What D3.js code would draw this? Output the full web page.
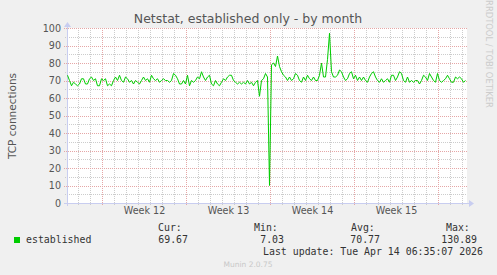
<!DOCTYPE html>
<html>
<head>
<meta charset="utf-8">
<script src="https://cdn.jsdelivr.net/npm/d3@7"></script>
<style>
  html, body { margin: 0; padding: 0; background: #f0f0f0; }
  svg { display: block; }
  .tickLbl { font-family: "DejaVu Sans", sans-serif; font-size: 9.6px; fill: #555; }
  .mono { font-family: "DejaVu Sans Mono", monospace; font-size: 9.9px; fill: #333; }
</style>
</head>
<body>
<div id="chart"></div>
<script>
// established connections, one value every 4 hours
var established = [
    73, 70, 67, 69, 68, 67, 68, 71, 71, 68, 68, 71, 72, 70, 71, 67, 67, 71,
    70, 71, 67, 68, 67, 70, 72, 70, 73, 70, 69, 72, 71, 69, 70, 68, 70, 69, 68, 70, 72, 70, 71,
    69, 73, 71, 70, 71, 69, 70, 71, 70, 70, 69, 70, 74, 73, 71, 68, 68, 70, 68,
    73, 67, 70, 69, 70, 72, 71, 75, 72, 70, 72, 73, 68, 67, 70, 68, 67, 69, 71, 70, 72,
    73, 73, 70, 69, 68, 69, 68, 69, 68, 70, 68, 69, 67, 69, 70, 61, 70, 71, 74, 72, 10, 79,
    80, 78, 84, 78, 75, 73, 72, 70, 72, 70, 71, 74, 73, 70, 69, 72, 70, 73, 71, 70, 72,
    70, 70, 73, 80, 72, 72, 82, 97, 75, 72, 72, 73, 76, 75, 72, 70, 71, 74, 75, 71, 73, 70,
    72, 70, 72, 70, 69, 72, 74, 75, 72, 70, 69, 71, 69, 70, 71, 69, 73, 73, 70, 72, 75, 74, 70,
    69, 72, 69, 70, 69, 70, 70, 68, 70, 73, 72, 70, 74, 72, 70, 69, 74, 70, 69, 70, 71, 73,
    71, 69, 69, 72, 71, 72, 71, 69, 70
];
var weekStarts = ["2026-03-16", "2026-03-23", "2026-03-30", "2026-04-06", "2026-04-13"];
var weekLabels = ["Week 12", "Week 13", "Week 14", "Week 15"];
var yTicks = [0, 10, 20, 30, 40, 50, 60, 70, 80, 90, 100];
var statNames = ["Cur:", "Min:", "Avg:", "Max:"];
var statValues = ["69.67", "7.03", "70.77", "130.89"];

var ctx = {
    w: 497, h: 275,
    left: 67, right: 467, top: 28, bottom: 203,
    lineColor: "#00cc00",
    minorGrid: "#cccccc",
    majorGrid: "#e5a6a6",
    axisColor: "#c8cdf0"
};

var t0 = new Date(Date.UTC(2026, 2, 13, 2, 0));
var t1 = new Date(t0.getTime() + 800 * 3600 * 1000);
var STEP = 4 * 3600 * 1000;

var x = d3.scaleUtc().domain([t0, t1]).range([ctx.left, ctx.right]);
var y = d3.scaleLinear().domain([0, 100]).range([ctx.bottom, ctx.top]);

var svgEl = d3.select("#chart").append("svg")
    .attr("width", ctx.w)
    .attr("height", ctx.h);

svgEl.append("rect").attr("width", ctx.w).attr("height", ctx.h).attr("fill", "#f0f0f0");
svgEl.append("rect")
    .attr("x", ctx.left).attr("y", ctx.top)
    .attr("width", ctx.right - ctx.left).attr("height", ctx.bottom - ctx.top)
    .attr("fill", "#ffffff");

// minor grid: days and every 5
var days = d3.utcDay.range(t0, t1);
svgEl.append("g").selectAll("line")
    .data(days)
    .enter().append("line")
    .attr("x1", d => Math.round(x(d)) + 0.5).attr("x2", d => Math.round(x(d)) + 0.5)
    .attr("y1", ctx.top).attr("y2", ctx.bottom + 3)
    .attr("stroke", ctx.minorGrid).attr("stroke-dasharray", "1,1");
svgEl.append("g").selectAll("line")
    .data(d3.range(5, 100, 10))
    .enter().append("line")
    .attr("x1", ctx.left - 2).attr("x2", ctx.right)
    .attr("y1", d => Math.round(y(d)) + 0.5).attr("y2", d => Math.round(y(d)) + 0.5)
    .attr("stroke", ctx.minorGrid).attr("stroke-dasharray", "1,1");

// major grid: weeks and every 10
svgEl.append("g").selectAll("line")
    .data(weekStarts.map(d => new Date(d + "T00:00:00Z")))
    .enter().append("line")
    .attr("x1", d => Math.round(x(d)) + 0.5).attr("x2", d => Math.round(x(d)) + 0.5)
    .attr("y1", ctx.top).attr("y2", ctx.bottom + 3)
    .attr("stroke", ctx.majorGrid).attr("stroke-dasharray", "1,1");
svgEl.append("g").selectAll("line")
    .data(yTicks.filter(d => d > 0))
    .enter().append("line")
    .attr("x1", ctx.left - 3).attr("x2", ctx.right)
    .attr("y1", d => Math.round(y(d)) + 0.5).attr("y2", d => Math.round(y(d)) + 0.5)
    .attr("stroke", ctx.majorGrid).attr("stroke-dasharray", "1,1");

// axes lines + arrows
svgEl.append("line")
    .attr("x1", ctx.left - 3).attr("x2", ctx.right + 3)
    .attr("y1", ctx.bottom + 0.5).attr("y2", ctx.bottom + 0.5)
    .attr("stroke", ctx.axisColor);
svgEl.append("line")
    .attr("x1", ctx.left + 0.5).attr("x2", ctx.left + 0.5)
    .attr("y1", ctx.bottom + 3).attr("y2", ctx.top - 3)
    .attr("stroke", ctx.axisColor);
svgEl.append("path")
    .attr("d", `M${ctx.right + 2},${ctx.bottom - 3}L${ctx.right + 7},${ctx.bottom + 0.5}L${ctx.right + 2},${ctx.bottom + 4}Z`)
    .attr("fill", ctx.axisColor);
svgEl.append("path")
    .attr("d", `M${ctx.left - 3},${ctx.top - 1}L${ctx.left + 0.5},${ctx.top - 6}L${ctx.left + 4},${ctx.top - 1}Z`)
    .attr("fill", ctx.axisColor);

// data line
var line = d3.line()
    .x((d, i) => x(new Date(t0.getTime() + i * STEP)) + 0.5)
    .y(d => y(d));
svgEl.append("path")
    .datum(established)
    .attr("d", line)
    .attr("fill", "none")
    .attr("stroke", ctx.lineColor)
    .attr("stroke-width", 1);

// y axis labels
var yAxisG = svgEl.append("g")
    .attr("transform", "translate(" + (ctx.left - 3) + ",0)")
    .call(d3.axisLeft(y).tickValues(yTicks).tickSize(0).tickPadding(3));
yAxisG.select(".domain").remove();
yAxisG.selectAll("text").attr("class", "tickLbl").attr("fill", null).attr("font-size", null).attr("font-family", null);

// x axis labels, centred in each week
var mids = weekLabels.map((w, i) => new Date((Date.parse(weekStarts[i]) + Date.parse(weekStarts[i + 1])) / 2));
var xAxisG = svgEl.append("g")
    .attr("transform", "translate(0," + (ctx.bottom + 1) + ")")
    .call(d3.axisBottom(x).tickValues(mids).tickSize(0).tickPadding(3).tickFormat((d, i) => weekLabels[i]));
xAxisG.select(".domain").remove();
xAxisG.selectAll("text").attr("class", "tickLbl").attr("fill", null).attr("font-size", null).attr("font-family", null);

// titles
svgEl.append("text")
    .attr("x", 248).attr("y", 23)
    .attr("text-anchor", "middle")
    .attr("font-family", "DejaVu Sans, sans-serif")
    .attr("font-size", "12.5px")
    .attr("fill", "#555")
    .text("Netstat, established only - by month");
svgEl.append("text")
    .attr("transform", "translate(16,116) rotate(-90)")
    .attr("text-anchor", "middle")
    .attr("font-family", "DejaVu Sans, sans-serif")
    .attr("font-size", "10.5px")
    .attr("fill", "#555")
    .text("TCP connections");
svgEl.append("text")
    .attr("transform", "translate(486,54) rotate(90)")
    .attr("text-anchor", "middle")
    .attr("font-family", "DejaVu Sans, sans-serif")
    .attr("font-size", "8.4px")
    .attr("fill", "#cccccc")
    .text("RRDTOOL / TOBI OETIKER");

// legend
var statX = [158, 254, 351, 446];
var valEnd = [188, 284, 380, 477];
statNames.forEach(function(s, i) {
    svgEl.append("text").attr("class", "mono").attr("x", statX[i]).attr("y", 231).text(s);
    svgEl.append("text").attr("class", "mono").attr("x", valEnd[i]).attr("y", 243)
        .attr("text-anchor", "end").text(statValues[i]);
});
svgEl.append("rect")
    .attr("x", 14).attr("y", 237).attr("width", 6).attr("height", 6)
    .attr("fill", ctx.lineColor);
svgEl.append("text").attr("class", "mono").attr("x", 26).attr("y", 243).text("established");
svgEl.append("text").attr("class", "mono").attr("x", 483).attr("y", 255)
    .attr("text-anchor", "end").text("Last update: Tue Apr 14 06:35:07 2026");
svgEl.append("text")
    .attr("x", 248).attr("y", 267)
    .attr("text-anchor", "middle")
    .attr("font-family", "DejaVu Sans, sans-serif")
    .attr("font-size", "7.5px")
    .attr("fill", "#c8c8c8")
    .text("Munin 2.0.75");
</script>
</body>
</html>
